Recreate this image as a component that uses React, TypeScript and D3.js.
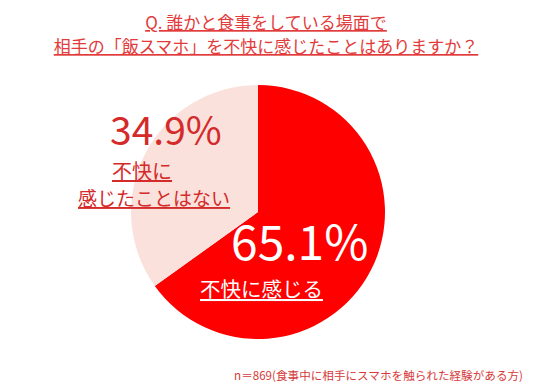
import React from 'react';
import * as d3 from 'd3';

const categories = ['不快に感じる', '不快に感じたことはない'];
const shares = [65.1, 34.9];
const sliceColors = ['#fe0000', '#fbe1dc'];
const titleLines = ['Q. 誰かと食事をしている場面で', '相手の「飯スマホ」を不快に感じたことはありますか？'];
const footnote = 'n＝869(食事中に相手にスマホを触られた経験がある方)';

const W = 543;
const H = 389;
const cx = 258;
const cy = 212;
const radius = 127;
const font = '"Noto Sans CJK JP", "Noto Sans", sans-serif';

const App: React.FC = () => {
  const pie = d3
    .pie<number>()
    .sort(null)
    .value((d) => d);
  const arcs = pie(shares);
  const arc = d3.arc<d3.PieArcDatum<number>>().innerRadius(0).outerRadius(radius);
  const underline = { textDecoration: 'underline' } as React.CSSProperties;

  return (
    <svg width={W} height={H} style={{ position: 'absolute', left: 0, top: 0, background: '#fff' }}>
      {/* Title */}
      {titleLines.map((t, i) => (
        <text
          key={i}
          x={266}
          y={29 + i * 24}
          textAnchor="middle"
          fontFamily={font}
          fontSize={17}
          fill="#e23b3b"
          style={underline}
        >
          {t}
        </text>
      ))}

      {/* Pie */}
      <g transform={`translate(${cx},${cy})`}>
        {arcs.map((a, i) => (
          <path key={categories[i]} d={arc(a) ?? ''} fill={sliceColors[i]} />
        ))}
      </g>

      {/* Minor slice label */}
      <text x={110} y={145} fontFamily={font} fontSize={39} fill="#d42a2a">
        {shares[1].toFixed(1)}%
      </text>
      <text x={112} y={179} fontFamily={font} fontSize={20} fill="#d42a2a" style={underline}>
        {categories[1].slice(0, 3)}
      </text>
      <text x={78} y={206} fontFamily={font} fontSize={19} fill="#d42a2a" style={underline}>
        {categories[1].slice(3)}
      </text>

      {/* Major slice label */}
      <text x={231} y={260} fontFamily={font} fontSize={48} fill="#ffffff">
        {shares[0].toFixed(1)}%
      </text>
      <text x={200} y={297} fontFamily={font} fontSize={20.5} fill="#ffffff" style={underline}>
        {categories[0]}
      </text>

      {/* Footnote */}
      <text x={523} y={380} textAnchor="end" fontFamily={font} fontSize={11.6} fill="#d63a3a">
        {footnote}
      </text>
    </svg>
  );
};

export default App;
